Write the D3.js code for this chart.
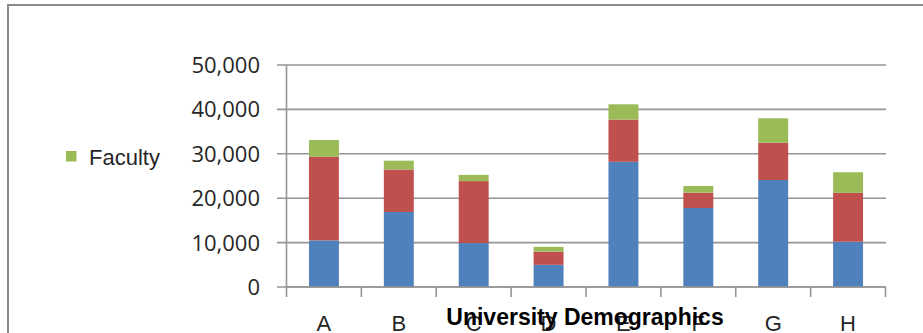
<!DOCTYPE html>
<html><head><meta charset="utf-8">
<script src="https://cdn.jsdelivr.net/npm/d3@7"></script>
<style>body{margin:0;background:#fff;overflow:hidden}svg{display:block}</style>
</head><body>
<svg id="chart" width="923" height="333"></svg>
<script>
const categories = ["A","B","C","D","E","F","G","H"];
const students = [10500, 16900, 9900, 5000, 28200, 17800, 24100, 10200];
const staff = [18800, 9550, 13950, 2950, 9500, 3450, 8400, 11000];
const faculty = [3800, 2000, 1400, 1100, 3450, 1500, 5500, 4650];
const seriesNames = ["Students", "Staff", "Faculty"];
const seriesColors = ["#4F81BD", "#C0504D", "#9BBB59"];
const yTicks = [0, 10000, 20000, 30000, 40000, 50000];
const title = "University Demographics";

const svg = d3.select("#chart");
const x0 = 286.5, x1 = 885.5, yBase = 287, yTop = 65;

const x = d3.scaleBand().domain(categories).range([x0, x1]).paddingInner(0.6).paddingOuter(0.3);
const y = d3.scaleLinear().domain([0, 50000]).range([yBase, yTop]);

// frame
svg.append("path").attr("d", `M8,333 V5 H923`).attr("fill","none").attr("stroke","#8a8a8a").attr("stroke-width",2);

// gridlines + y ticks
const gridColor = "#959595";
svg.append("g").selectAll("line").data(yTicks).join("line")
  .attr("x1", x0 - 9.5).attr("x2", x1 + 0.5)
  .attr("y1", d => y(d)).attr("y2", d => y(d))
  .attr("stroke", gridColor).attr("stroke-width", 1.6);

// y axis line
svg.append("line").attr("x1", x0).attr("x2", x0).attr("y1", yTop).attr("y2", yBase)
  .attr("stroke", gridColor).attr("stroke-width", 1.6);

// y labels
svg.append("g").selectAll("text").data(yTicks).join("text")
  .attr("x", 260).attr("y", d => y(d) + 8)
  .attr("text-anchor", "end")
  .attr("font-family", "'Open Sans', sans-serif").attr("font-size", 22).attr("fill", "#262626")
  .text(d => d3.format(",")(d));

// stacked bars
const rows = categories.map((c, i) => ({cat: c, Students: students[i], Staff: staff[i], Faculty: faculty[i]}));
const stacked = d3.stack().keys(seriesNames)(rows);
svg.append("g").selectAll("g").data(stacked).join("g")
  .attr("fill", (d, i) => seriesColors[i])
  .selectAll("rect").data(d => d).join("rect")
  .attr("x", d => x(d.data.cat)).attr("width", x.bandwidth())
  .attr("y", d => y(d[1])).attr("height", d => y(d[0]) - y(d[1]));

// x axis baseline and category ticks
svg.append("line").attr("x1", x0).attr("x2", x1).attr("y1", yBase).attr("y2", yBase)
  .attr("stroke", gridColor).attr("stroke-width", 1.6);
const bounds = d3.range(categories.length + 1).map(i => x0 + i * x.step());
svg.append("g").selectAll("line").data(bounds).join("line")
  .attr("x1", d => d).attr("x2", d => d).attr("y1", yBase).attr("y2", yBase + 10)
  .attr("stroke", gridColor).attr("stroke-width", 1.6);

// x labels
svg.append("g").selectAll("text").data(categories).join("text")
  .attr("x", d => x(d) + x.bandwidth() / 2).attr("y", 331)
  .attr("text-anchor", "middle")
  .attr("font-family", "'Liberation Sans', Arial, sans-serif").attr("font-size", 22).attr("fill", "#262626")
  .text(d => d);

// legend (only Faculty visible)
const lg = svg.append("g");
lg.append("rect").attr("x", 66).attr("y", 151).attr("width", 10.5).attr("height", 10.5).attr("fill", seriesColors[2]);
lg.append("text").attr("x", 89).attr("y", 164.5)
  .attr("font-family", "'Liberation Sans', Arial, sans-serif").attr("font-size", 22).attr("fill", "#262626")
  .text(seriesNames[2]);

// title
svg.append("text").attr("x", 585).attr("y", 325).attr("text-anchor", "middle")
  .attr("font-family", "'Liberation Sans', Arial, sans-serif").attr("font-weight", "bold").attr("font-size", 23).attr("fill", "#000")
  .text(title);
</script>
</body></html>
